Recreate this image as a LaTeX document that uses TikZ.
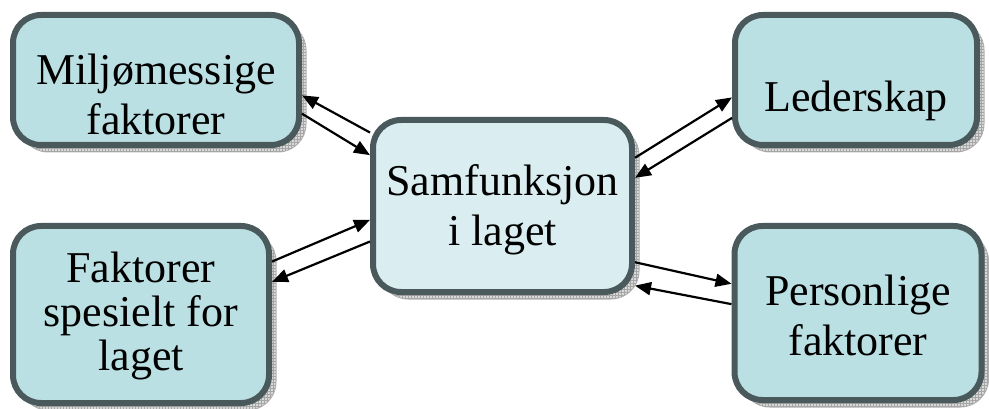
\documentclass[tikz,border=0pt]{standalone}
\usepackage{fontspec}
\setmainfont{Liberation Serif}
\usetikzlibrary{arrows.meta,shadows,patterns}
\definecolor{boxline}{HTML}{4A5A5C}
\definecolor{boxfill}{HTML}{BBE0E3}
\definecolor{midfill}{HTML}{DAEEF1}

\begin{document}
\begin{tikzpicture}[x=1pt, y=-1pt,
    box/.style={draw=boxline, line width=6pt, rounded corners=28pt, fill=boxfill,
      inner sep=0pt, align=center, font=\fontsize{44}{50}\selectfont,
      general shadow={shadow xshift=7pt, shadow yshift=-7pt, fill=gray!30, draw=gray!60, line width=1pt},
      general shadow={shadow xshift=7pt, shadow yshift=-7pt, pattern=grid, pattern color=gray!70}},
    link/.style={-{Triangle[length=16pt,width=13pt]}, line width=2.2pt}]
      \useasboundingbox (0,0) rectangle (989,409);
      \node[box, minimum width=286pt, minimum height=130pt, text height=119pt, text depth=9pt] (miljo) at (156,80) {Miljømessige\\faktorer};
      \node[box, minimum width=242pt, minimum height=130pt, text height=73pt, text depth=9pt] (leder) at (856,80) {Lederskap};
      \node[box, fill=midfill, minimum width=259pt, minimum height=172pt, text height=87pt, text depth=9pt] (samf) at (502.5,206) {Samfunksjon\\i laget};
      \node[box, font=\fontsize{44}{44}\selectfont, minimum width=256pt, minimum height=177pt, text height=120pt, text depth=9pt] (fakt) at (141,314.5) {Faktorer\\spesielt for\\laget};
      \node[box, minimum width=247pt, minimum height=174pt, text height=93pt, text depth=9pt] (pers) at (858,313) {Personlige\\faktorer};
      \draw[link] (samf.151) -- (miljo.-6);
      \draw[link] (miljo.-13) -- (samf.159);
      \draw[link] (fakt.22) -- (samf.-174);
      \draw[link] (samf.195) -- (fakt.14);
      \draw[link] (samf.20) -- (leder.188);
      \draw[link] (leder.197) -- (samf.12);
      \draw[link] (samf.-23) -- (pers.167);
      \draw[link] (pers.176) -- (samf.-31);
\end{tikzpicture}
\end{document}
